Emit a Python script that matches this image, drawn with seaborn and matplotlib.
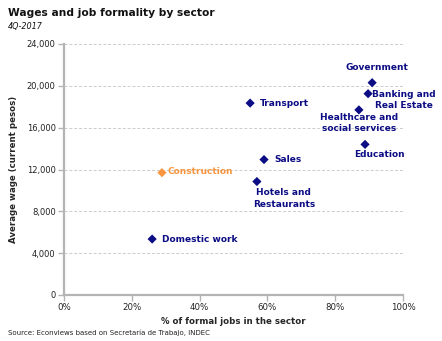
import matplotlib
matplotlib.use("Agg")
import matplotlib.pyplot as plt
import seaborn as sns
import pandas as pd

sectors = ["Government", "Banking and\nReal Estate", "Transport", "Healthcare and\nsocial services",
           "Education", "Sales", "Hotels and\nRestaurants", "Construction", "Domestic work"]
formal_share = [0.909, 0.897, 0.549, 0.870, 0.888, 0.590, 0.569, 0.289, 0.260]
avg_wage = [20300, 19250, 18350, 17700, 14400, 12950, 10850, 11700, 5350]
highlight = ["other"] * 7 + ["construction", "other"]
y_ticks = [0, 4000, 8000, 12000, 16000, 20000, 24000]
x_ticks = [0, 0.2, 0.4, 0.6, 0.8, 1.0]

df = pd.DataFrame({"sector": sectors, "x": formal_share, "y": avg_wage, "group": highlight})

sns.set_theme(style="white")
plt.rcParams['font.family'] = ['DejaVu Sans']

NAVY = "#0c0c84"
ORANGE = "#f7963f"
GRID = "#cccccc"
AX = "#b4b4b4"

fig = plt.figure(figsize=(4.42, 3.41), dpi=100)
ax = fig.add_axes([64/442, 1-295/341, (403-64)/442, (295-44)/341])

sns.scatterplot(data=df, x="x", y="y", hue="group", palette={"other": NAVY, "construction": ORANGE},
                marker="D", s=22, edgecolor="none", legend=False, ax=ax, zorder=3)

ax.set_xlim(0, 1)
ax.set_ylim(0, 24000)
ax.set_xticks(x_ticks)
ax.set_xticklabels([f"{int(round(t*100))}%" for t in x_ticks], fontsize=6.2, color="#222222")
ax.set_yticks(y_ticks)
ax.set_yticklabels([f"{t:,}" for t in y_ticks], fontsize=6.0, color="#222222")
ax.yaxis.grid(True, color=GRID, linestyle=(0, (3, 2)), linewidth=0.7)
ax.xaxis.grid(False)
for s in ["top", "right"]:
    ax.spines[s].set_visible(False)
ax.spines["left"].set_color(AX)
ax.spines["left"].set_linewidth(1.6)
ax.spines["bottom"].set_color(AX)
ax.spines["bottom"].set_linewidth(1.6)
ax.tick_params(axis="both", which="both", length=4, width=1, color=AX, pad=2, direction="out")
ax.tick_params(left=True, bottom=True)

ax.set_xlabel("% of formal jobs in the sector", fontsize=6.2, fontweight="bold", labelpad=3)
ax.set_ylabel("Average wage (current pesos)", fontsize=6.2, fontweight="bold", labelpad=6)

# label offsets in pixels (dx, dy, ha)
offsets = {
    "Government": (5, 15, "center"),
    "Banking and\nReal Estate": (36, -6, "center"),
    "Transport": (10, 0, "left"),
    "Healthcare and\nsocial services": (0, -13, "center"),
    "Education": (14, -10, "center"),
    "Sales": (10, 0, "left"),
    "Hotels and\nRestaurants": (27, -17, "center"),
    "Construction": (6, 1, "left"),
    "Domestic work": (10, 0, "left"),
}
for name, x, y, g in zip(sectors, formal_share, avg_wage, highlight):
    dx, dy, ha = offsets[name]
    ax.annotate(name, (x, y), xytext=(dx, dy), textcoords="offset pixels", ha=ha, va="center",
                fontsize=6.5, fontweight="bold", color=ORANGE if g == "construction" else NAVY,
                linespacing=1.3, multialignment="center", zorder=4)

fig.text(8/442, 1-13/341, "Wages and job formality by sector", fontsize=7.7, fontweight="bold",
         color="#111111", va="center", ha="left")
fig.text(8/442, 1-27/341, "4Q-2017", fontsize=5.8, style="italic", color="#111111", va="center", ha="left")
fig.text(8/442, 1-333/341, "Source: Econviews based on Secretaría de Trabajo, INDEC", fontsize=5.0,
         color="#222222", va="center", ha="left")

fig.savefig("out.png", dpi=100)
